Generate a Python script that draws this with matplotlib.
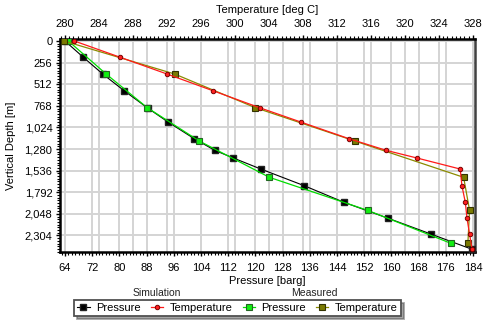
import numpy as np
import matplotlib
matplotlib.use('Agg')
import matplotlib.pyplot as plt
from matplotlib.ticker import MultipleLocator, FuncFormatter

# simulated well profile
sim_depth = [0, 193, 391, 589, 794, 962, 1157, 1296, 1386, 1517, 1715, 1912, 2101, 2287, 2469]
sim_pressure = [64.0, 69.4, 75.1, 81.4, 88.3, 94.4, 102.0, 108.1, 113.5, 121.6, 134.4, 146.1, 159.1, 171.6, 183.8]
sim_temp = [281.1, 286.5, 292.0, 297.4, 303.0, 307.8, 313.4, 317.8, 321.4, 326.5, 326.7, 327.1, 327.3, 327.6, 327.9]

# survey points
meas_depth = [0, 391, 790, 1185, 1615, 2006, 2397]
meas_pressure = [65.0, 76.1, 88.2, 103.5, 124.1, 153.0, 177.5]
meas_temp = [279.9, 292.9, 302.4, 314.1, 326.9, 327.6, 327.4]

plt.rcParams['font.family'] = ['Liberation Sans', 'DejaVu Sans']
plt.rcParams['font.size'] = 8

fig = plt.figure(figsize=(4.85, 3.23), dpi=100)
ax = fig.add_axes([0.1237, 0.2198, 0.8557, 0.6595])
ax2 = ax.twiny()
ax2.set_zorder(0)
ax.set_zorder(1)
ax.patch.set_visible(False)
ax2.patch.set_visible(True)
ax2.patch.set_facecolor('white')

p_lim = (62.53, 184.6)
ax.set_xlim(p_lim)
ax2.set_xlim(280 + (p_lim[0] - 64) * 0.4, 280 + (p_lim[1] - 64) * 0.4)
ax.set_ylim(2500, -24)

grid_kw = dict(color='#d4d4d4', lw=1.4)
ax.grid(True, **grid_kw)
ax.set_axisbelow(True)
ax2.grid(True, axis='x', **grid_kw)

ax.xaxis.set_major_locator(MultipleLocator(8))
ax.xaxis.set_minor_locator(MultipleLocator(1))
ax.yaxis.set_major_locator(MultipleLocator(256))
ax.yaxis.set_minor_locator(MultipleLocator(32))
ax.yaxis.set_major_formatter(FuncFormatter(lambda v, pos: '{:,.0f}'.format(v)))
ax2.xaxis.set_major_locator(MultipleLocator(4))
ax2.xaxis.set_minor_locator(MultipleLocator(0.5))

for a in (ax, ax2):
    a.tick_params(which='major', length=3, width=1)
    a.tick_params(which='minor', length=2, width=0.8)
ax.tick_params(axis='x', which='major', pad=5)
ax.tick_params(axis='y', which='major', pad=2.5)
ax2.tick_params(axis='x', which='major', pad=4.5)

for side in ['left', 'bottom', 'top', 'right']:
    ax.spines[side].set_linewidth(1.8)
    ax.spines[side].set_color('black')
    ax2.spines[side].set_visible(False)
ax.spines['right'].set_color('#404040')

# pressure on the bottom axis, temperature on the top one
h1, = ax.plot(sim_pressure, sim_depth, color='black', lw=0.8, marker='s', ms=4,
              mfc='black', mec='#222222', zorder=3)
h3, = ax.plot(meas_pressure, meas_depth, color='#00dd00', lw=0.9, marker='s', ms=4.2,
              mfc='#11ee11', mec='#226622', mew=0.8, zorder=4)
h2, = ax.plot(sim_temp, sim_depth, color='#ff1a1a', lw=0.9, marker='o', ms=3.2,
              mfc='#ff2020', mec='#7a0000', mew=0.7, zorder=5, transform=ax2.transData)
h4, = ax.plot(meas_temp, meas_depth, color='#8b8b00', lw=0.9, marker='s', ms=4.5,
              mfc='#7a7a00', mec='#333300', mew=0.8, zorder=4, transform=ax2.transData)

ax.set_xlabel('Pressure [barg]', labelpad=2)
ax.set_ylabel('Vertical Depth [m]', labelpad=6)
ax2.set_xlabel('Temperature [deg C]', labelpad=4)

leg = fig.legend([h1, h2, h3, h4], ['Pressure', 'Temperature', 'Pressure', 'Temperature'],
                 ncol=4, loc='lower center', bbox_to_anchor=(0.49, 0.003),
                 fontsize=8, frameon=True, fancybox=False, shadow=True,
                 handlelength=1.1, handletextpad=0.6, columnspacing=0.9,
                 borderpad=0.3, edgecolor='#505050')
leg.get_frame().set_linewidth(1.3)
fig.text(0.324, 0.093, 'Simulation', ha='center', va='center', fontsize=7.5, color='#222222')
fig.text(0.649, 0.093, 'Measured', ha='center', va='center', fontsize=7.5, color='#222222')

fig.savefig('out.png', dpi=100)
